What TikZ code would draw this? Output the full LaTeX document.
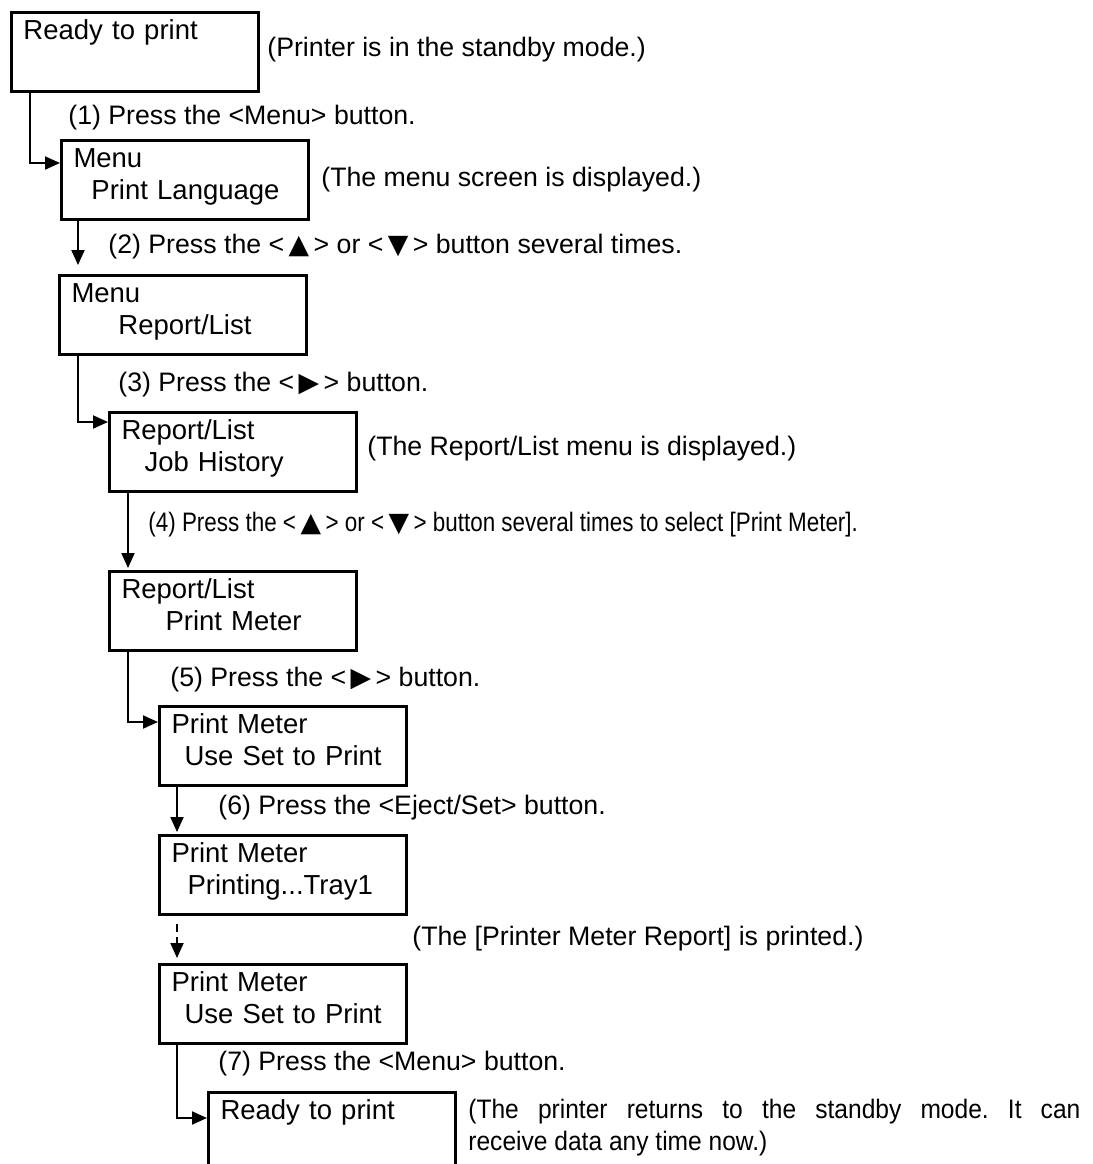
\documentclass[tikz,border=0pt]{standalone}
\usepackage{fontspec}
\setmainfont{Liberation Sans}
\newfontfamily\symfont{DejaVu Sans}
\newfontfamily\narrowfont[FakeStretch=0.84]{Liberation Sans}
\newfontfamily\slimfont[FakeStretch=0.92]{Liberation Sans}
\usetikzlibrary{arrows.meta,positioning,calc}
\newcommand{\keyup}{<\,{\symfont ▲}\,>}
\newcommand{\keydown}{<\,{\symfont ▼}\,>}
\newcommand{\keyright}{<\,{\symfont ▶}\,>}
\newcommand{\lcd}[2]{\rule{0pt}{11pt}#1\\#2\rule[-7.5pt]{0pt}{0pt}}
\frenchspacing

\begin{document}
\begin{tikzpicture}[x=0.5pt,y=-0.5pt,font=\fontsize{13.35}{16}\selectfont,
  screen/.style={draw,line width=1.5pt,anchor=north west,text width=111.5pt,
    inner xsep=6pt,inner ysep=0pt,minimum height=39.5pt,align=left,
    font=\fontsize{13.75}{16}\selectfont},
  note/.style={inner sep=0pt,anchor=west},
  flow/.style={line width=1pt,-{Triangle[length=7.5pt,width=6.5pt]}}]
   \clip (0,0) rectangle (1093,1164);
   % display screens
   \node[screen] (b1) at (10,11) {\lcd{Ready to print}{}};
   \node[screen] (b2) at (60,139) {\lcd{Menu}{\hspace*{9pt}Print Language}};
   \node[screen] (b3) at (58,274) {\lcd{Menu}{\hspace*{23.5pt}Report/List}};
   \node[screen] (b4) at (108,411) {\lcd{Report/List}{\hspace*{11.5pt}Job History}};
   \node[screen] (b5) at (108,570) {\lcd{Report/List}{\hspace*{22pt}Print Meter}};
   \node[screen] (b6) at (158,705) {\lcd{Print Meter}{\hspace*{6.5pt}Use Set to Print}};
   \node[screen] (b7) at (158,834) {\lcd{Print Meter}{\hspace*{8pt}Printing...Tray1}};
   \node[screen] (b8) at (158,963) {\lcd{Print Meter}{\hspace*{6.5pt}Use Set to Print}};
   \node[screen] (b9) at (207,1091) {\lcd{Ready to print}{}};
   % remarks
   \node[note,right=3.5pt of b1,yshift=1pt] (n1) {(Printer is in the standby mode.)};
   \node[note,right=5.5pt of b2] (n2) {(The menu screen is displayed.)};
   \node[note,right=4.5pt of b4,yshift=1.5pt] (n4) {(The Report/List menu is displayed.)};
   \node[note] (n7) at (412,939) {(The [Printer Meter Report] is printed.)};
   \node[inner sep=0pt,anchor=north west,text width=306pt,align=justify,font=\slimfont\fontsize{13.35}{16}\selectfont] (n9) at (468,1099)
     {(The printer returns to the standby mode. It can\linebreak receive data any time now.)};
   % steps
   \node[note] (s1) at (68,118) {(1) Press the <Menu> button.};
   \node[note] (s2) at (108,247) {(2) Press the \keyup{} or \keydown{} button several times.};
   \node[note] (s3) at (118,385) {(3) Press the \keyright{} button.};
   \node[note,font=\narrowfont\fontsize{13.35}{16}\selectfont] (s4) at (148,525)
     {(4) Press the \keyup{} or \keydown{} button several times to select [Print Meter].};
   \node[note] (s5) at (170,680) {(5) Press the \keyright{} button.};
   \node[note] (s6) at (218,808) {(6) Press the <Eject/Set> button.};
   \node[note] (s7) at (218,1064) {(7) Press the <Menu> button.};
   % connectors
   \draw[flow] ($(b1.south west)+(20,0)$) |- ($(b2.north west)+(0,24)$);
   \draw[flow,shorten >=4.5pt] ($(b2.south west)+(18,0)$) -- ($(b3.north west)+(20,0)$);
   \draw[flow] ($(b3.south west)+(20,0)$) |- ($(b4.north west)+(0,11)$);
   \draw[flow,shorten >=1pt] ($(b4.south west)+(20,0)$) -- ($(b5.north west)+(20,0)$);
   \draw[flow] ($(b5.south west)+(20,0)$) |- ($(b6.north west)+(0,17)$);
   \draw[flow,shorten >=1pt] ($(b6.south west)+(19,0)$) -- ($(b7.north west)+(19,0)$);
   \draw[flow,dash pattern=on 4pt off 2.5pt,shorten <=4pt,shorten >=2.5pt]
     ($(b7.south west)+(19,0)$) -- ($(b8.north west)+(19,0)$);
   \draw[flow] ($(b8.south west)+(19,0)$) |- ($(b9.north west)+(0,27)$);
\end{tikzpicture}
\end{document}
